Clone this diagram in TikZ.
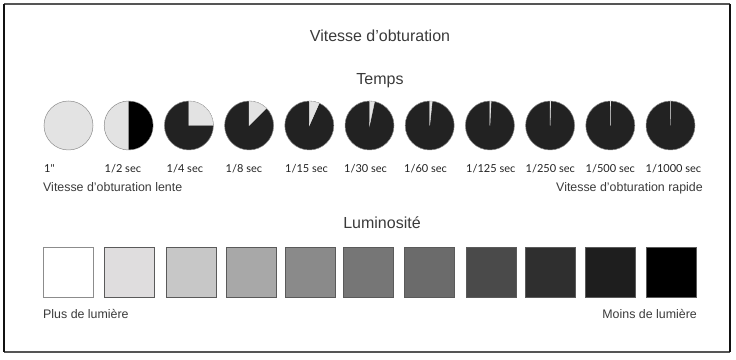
\documentclass[tikz,border=0pt]{standalone}
\usepackage{fontspec}
\setmainfont{Liberation Sans}
\newfontfamily\labelfont{Lato}
\usepackage{xcolor}
\definecolor{Ink}{HTML}{3A3A3A}
\definecolor{LabelInk}{HTML}{222222}
\definecolor{Light}{HTML}{E3E3E3}
\definecolor{Dark}{HTML}{222222}
\definecolor{Rim}{HTML}{8C8C8C}
\definecolor{Edge}{HTML}{5A5A5A}
\definecolor{FrameSide}{HTML}{111111}
\definecolor{FrameTop}{HTML}{555555}
\definecolor{LumA}{HTML}{FFFFFF}
\definecolor{LumB}{HTML}{DFDDDE}
\definecolor{LumC}{HTML}{C7C7C7}
\definecolor{LumD}{HTML}{A8A8A8}
\definecolor{LumE}{HTML}{8A8A8A}
\definecolor{LumF}{HTML}{767676}
\definecolor{LumG}{HTML}{6B6B6B}
\definecolor{LumH}{HTML}{4A4A4A}
\definecolor{LumI}{HTML}{2F2F2F}
\definecolor{LumJ}{HTML}{1E1E1E}
\definecolor{LumK}{HTML}{000000}

\begin{document}
\begin{tikzpicture}[x=1pt,y=1pt,
  heading/.style={anchor=base,text=Ink,inner sep=0pt,font=\fontsize{16}{18}\selectfont},
  sidenote/.style={anchor=base west,text=Ink,inner sep=0pt,font=\fontsize{12.4}{14}\selectfont},
  sidenoteright/.style={sidenote,anchor=base east},
  seclabel/.style={anchor=base west,text=LabelInk,inner sep=0pt,font=\labelfont\fontsize{11}{13}\selectfont},
  dial/.style={circle,minimum size=49pt,inner sep=0pt,fill=Dark,draw=Rim,line width=0.5pt},
  slit/.style={fill=Light,draw=Light,line width=0.4pt},
  swatch/.style={rectangle,minimum size=50pt,inner sep=0pt,draw=Edge,line width=0.6pt}]
\useasboundingbox (0,0) rectangle (736,359);
% frame
\draw[FrameTop,line width=1.5pt] (4,355) -- (730,355);
\draw[FrameTop,line width=1.5pt] (4,7) -- (730,7);
\draw[FrameSide,line width=1.6pt] (4,355) -- (4,7);
\draw[FrameSide,line width=1.6pt] (730,355) -- (730,7);
% titles
\node[heading] (title) at (380,317) {Vitesse d’obturation};
\node[heading] (temps) at (380,274) {Temps};
\node[heading] (lum) at (382,130) {Luminosité};
% shutter dials
\node[dial,fill=Light] (d1) at (68.5,233.5) {};
\node[dial,fill=Light] (d2) at (128.7,233.5) {};
\fill[black] (d2.center) -- ++(90:24.2) arc[start angle=90,end angle=-90,radius=24.2] -- cycle;
\node[dial] (d3) at (188.9,233.5) {};
\fill[slit] (d3.center) -- ++(90:24.2) arc[start angle=90,end angle=0,radius=24.2] -- cycle;
\node[dial] (d4) at (249.1,233.5) {};
\fill[slit] (d4.center) -- ++(90:24.2) arc[start angle=90,end angle=45,radius=24.2] -- cycle;
\node[dial] (d5) at (309.3,233.5) {};
\fill[slit] (d5.center) -- ++(90:24.2) arc[start angle=90,end angle=66,radius=24.2] -- cycle;
\node[dial] (d6) at (369.5,233.5) {};
\fill[slit] (d6.center) -- ++(90:24.2) arc[start angle=90,end angle=78,radius=24.2] -- cycle;
\node[dial] (d7) at (429.7,233.5) {};
\fill[slit] (d7.center) -- ++(90:24.2) arc[start angle=90,end angle=84,radius=24.2] -- cycle;
\node[dial] (d8) at (489.9,233.5) {};
\fill[slit] (d8.center) -- ++(90:24.2) arc[start angle=90,end angle=87.12,radius=24.2] -- cycle;
\node[dial] (d9) at (550.1,233.5) {};
\fill[slit] (d9.center) -- ++(90:24.2) arc[start angle=90,end angle=88.56,radius=24.2] -- cycle;
\node[dial] (d10) at (610.3,233.5) {};
\fill[slit] (d10.center) -- ++(90:24.2) arc[start angle=90,end angle=89.28,radius=24.2] -- cycle;
\node[dial] (d11) at (670.5,233.5) {};
\fill[slit] (d11.center) -- ++(90:24.2) arc[start angle=90,end angle=89.64,radius=24.2] -- cycle;
% speed labels
\node[seclabel] (t1) at (44,186) {1"};
\node[seclabel] (t2) at (104.5,186) {1/2 sec};
\node[seclabel] (t3) at (166.5,186) {1/4 sec};
\node[seclabel] (t4) at (225.5,186) {1/8 sec};
\node[seclabel] (t5) at (285,186) {1/15 sec};
\node[seclabel] (t6) at (344,186) {1/30 sec};
\node[seclabel] (t7) at (404,186) {1/60 sec};
\node[seclabel] (t8) at (466,186) {1/125 sec};
\node[seclabel] (t9) at (525.5,186) {1/250 sec};
\node[seclabel] (t10) at (585.5,186) {1/500 sec};
\node[seclabel] (t11) at (645.5,186) {1/1000 sec};
\node[sidenote] (slow) at (43,167) {Vitesse d’obturation lente};
\node[sidenoteright] (fast) at (703,167) {Vitesse d’obturation rapide};
% brightness swatches
\node[swatch,fill=LumA,draw=Rim] (s1) at (68.5,86.5) {};
\node[swatch,fill=LumB] (s2) at (129.5,86.5) {};
\node[swatch,fill=LumC] (s3) at (191,86.5) {};
\node[swatch,fill=LumD] (s4) at (251,86.5) {};
\node[swatch,fill=LumE] (s5) at (310,86.5) {};
\node[swatch,fill=LumF] (s6) at (368.5,86.5) {};
\node[swatch,fill=LumG] (s7) at (429.5,86.5) {};
\node[swatch,fill=LumH] (s8) at (491,86.5) {};
\node[swatch,fill=LumI] (s9) at (550.5,86.5) {};
\node[swatch,fill=LumJ] (s10) at (610.5,86.5) {};
\node[swatch,fill=LumK] (s11) at (671,86.5) {};
\node[sidenote] (more) at (43,41) {Plus de lumière};
\node[sidenoteright] (less) at (697,41) {Moins de lumière};
\end{tikzpicture}
\end{document}
